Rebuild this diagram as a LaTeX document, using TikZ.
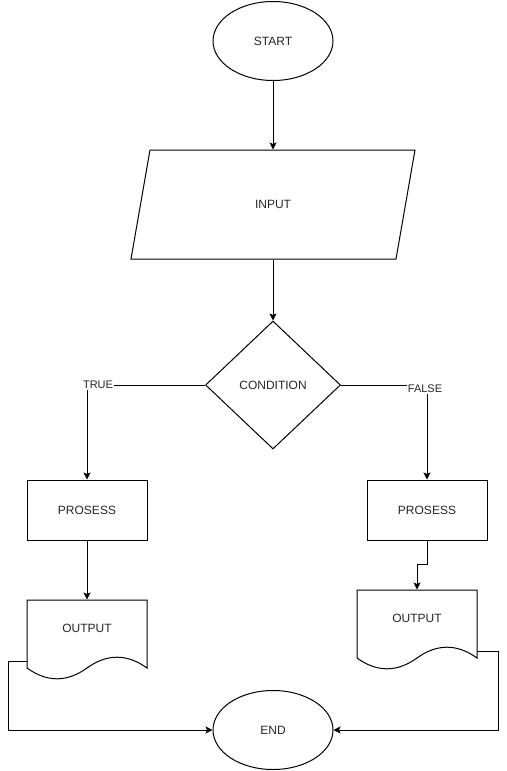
\documentclass[tikz,border=0pt]{standalone}
\usepackage{fontspec}
\setmainfont{Liberation Sans}
\usetikzlibrary{shapes.geometric,arrows.meta,calc}

\tikzset{
  base/.style={font=\fontsize{12}{14}\selectfont, text=black!85, line width=1pt, inner sep=0pt},
  terminal/.style={base, draw, ellipse, minimum width=120pt, minimum height=79pt},
  decision/.style={base, draw, diamond, minimum width=135pt, minimum height=128pt},
  procbox/.style={base, draw, rectangle, minimum width=120pt, minimum height=60pt},
  plain/.style={base, rectangle},
  edgelabel/.style={font=\fontsize{11}{13}\selectfont, text=black!85, fill=white, inner sep=1pt},
  shapeline/.style={line width=1pt, line join=miter},
  flow/.style={line width=1pt, -{Stealth[length=7pt,width=7pt,inset=1.5pt]}},
}

\begin{document}
\begin{tikzpicture}[x=1pt, y=-1pt]
  \path[use as bounding box] (0,0) rectangle (506,771);

  % terminals
  \node[terminal] (start) at (273,41) {START};
  \node[terminal] (end) at (273,730) {END};

  % input (parallelogram drawn as a path around its text node)
  \node[plain, minimum width=246pt, minimum height=109pt] (input) at (273,204.5) {INPUT};
  \draw[shapeline] (150,150) -- (415,150) -- (396,259) -- (131,259) -- cycle;

  % decision
  \node[decision] (cond) at (273,385) {CONDITION};

  % processes
  \node[procbox] (prosL) at (87,510) {PROSESS};
  \node[procbox] (prosR) at (427,510) {PROSESS};

  % output documents (text nodes plus wavy document outline)
  \node[plain, minimum width=120pt, minimum height=56pt] (outL) at (87,628) {OUTPUT};
  \draw[shapeline] (27,600) -- (147,600) -- (147,668)
        .. controls (127,653.6) and (107,653.6) .. (87,668)
        .. controls (67,682.4) and (47,682.4) .. (27,668) -- cycle;

  \node[plain, minimum width=120pt, minimum height=56pt] (outR) at (417,618) {OUTPUT};
  \draw[shapeline] (357,590) -- (477,590) -- (477,658)
        .. controls (457,643.6) and (437,643.6) .. (417,658)
        .. controls (397,672.4) and (377,672.4) .. (357,658) -- cycle;

  % connector waypoints
  \coordinate (oLexit) at (27,661);
  \coordinate (oLside) at (8,661);
  \coordinate (oRexit) at (477,651);
  \coordinate (oRside) at (498,651);
  \coordinate (pRbend) at (427,564);

  % connectors
  \draw[flow] (start.south) -- (input.north);
  \draw[flow] (input.south) -- (cond.north);
  \draw[flow] (cond.west) -| (prosL.north);
  \draw[flow] (cond.east) -| (prosR.north);
  \draw[flow] (prosL.south) -- (outL.north);
  \draw[flow] (prosR.south) -- (pRbend) -| (outR.north);
  \draw[flow] (oLexit) -- (oLside) |- (end.west);
  \draw[flow] (oRexit) -- (oRside) |- (end.east);

  % branch labels
  \node[edgelabel] (ltrue) at (98,385) {TRUE};
  \node[edgelabel] (lfalse) at (425,389) {FALSE};
\end{tikzpicture}
\end{document}
